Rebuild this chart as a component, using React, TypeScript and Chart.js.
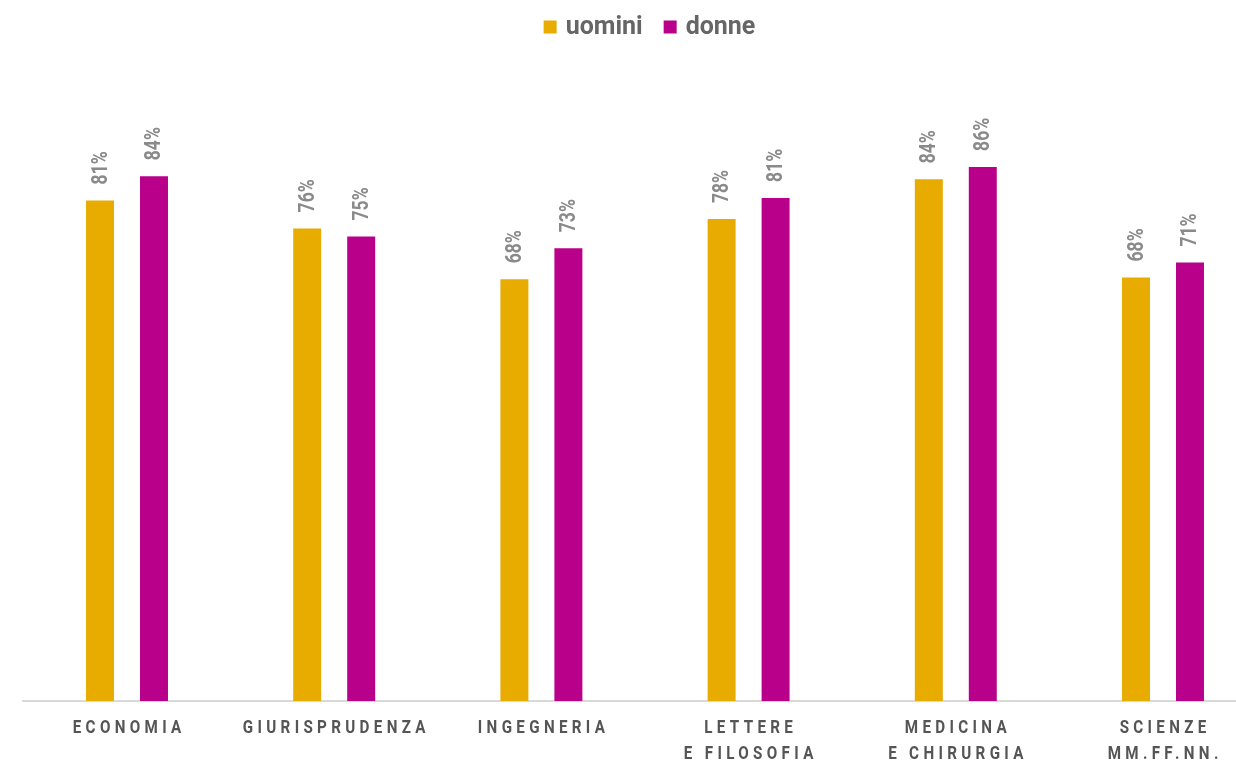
import React, { useEffect, useRef } from "react";
import { Chart, registerables } from "chart.js";

Chart.register(...registerables);

const categories: string[][] = [
  ["ECONOMIA"],
  ["GIURISPRUDENZA"],
  ["INGEGNERIA"],
  ["LETTERE", "E FILOSOFIA"],
  ["MEDICINA", "E CHIRURGIA"],
  ["SCIENZE", "MM.FF.NN."],
];
const seriesNames = ["uomini", "donne"];
const uomini = [80.6, 76.1, 67.9, 77.6, 84.0, 68.2];
const donne = [84.5, 74.8, 72.9, 81.0, 86.0, 70.6];
const uominiLabels = ["81%", "76%", "68%", "78%", "84%", "68%"];
const donneLabels = ["84%", "75%", "73%", "81%", "86%", "71%"];

const GOLD = "#E8AB00";
const MAGENTA = "#B8008A";
const CANVAS_W = 1300;
const CANVAS_H = 760;

const FONT = 'Roboto, "DejaVu Sans", sans-serif';

const valueLabelPlugin = {
  id: "valueLabels",
  afterDatasetsDraw(chart: any) {
    const ctx = chart.ctx;
    const labelSets = [uominiLabels, donneLabels];
    ctx.save();
    ctx.font = `bold 22px ${FONT}`;
    ctx.fillStyle = "#8a8a8a";
    ctx.textAlign = "left";
    ctx.textBaseline = "middle";
    chart.data.datasets.forEach((_: any, di: number) => {
      const meta = chart.getDatasetMeta(di);
      meta.data.forEach((el: any, i: number) => {
        ctx.save();
        ctx.translate(el.x, el.y - 16);
        ctx.rotate(-Math.PI / 2);
        ctx.scale(0.8, 1);
        ctx.fillText(labelSets[di][i], 0, 1);
        ctx.restore();
      });
    });
    ctx.restore();
  },
};

const xLabelPlugin = {
  id: "xLabels",
  afterDraw(chart: any) {
    const ctx = chart.ctx;
    const xs = chart.scales.x;
    ctx.save();
    ctx.font = `bold 19px ${FONT}`;
    ctx.fillStyle = "#555555";
    ctx.textAlign = "left";
    ctx.textBaseline = "middle";
    const spacing = 5.4;
    const sx = 0.8;
    (ctx as any).letterSpacing = `${spacing}px`;
    categories.forEach((lines, i) => {
      const x = xs.getPixelForValue(i);
      lines.forEach((line, j) => {
        const w = ctx.measureText(line).width - spacing;
        ctx.save();
        ctx.translate(x - (w * sx) / 2, 728 + j * 26);
        ctx.scale(sx, 1);
        ctx.fillText(line, 0, 0);
        ctx.restore();
      });
    });
    ctx.restore();
  },
};

const legendPlugin = {
  id: "customLegend",
  afterDraw(chart: any) {
    const ctx = chart.ctx;
    const colors = [GOLD, MAGENTA];
    ctx.save();
    ctx.font = `bold 25px ${FONT}`;
    ctx.textBaseline = "middle";
    ctx.textAlign = "left";
    const box = 13;
    const gapBoxText = 9;
    const gapItems = 21;
    const widths = seriesNames.map((n) => box + gapBoxText + ctx.measureText(n).width);
    const total = widths.reduce((a, b) => a + b, 0) + gapItems * (seriesNames.length - 1);
    let x = 649.5 - total / 2;
    const cy = 27;
    seriesNames.forEach((n, i) => {
      ctx.fillStyle = colors[i];
      ctx.fillRect(x, cy - box / 2, box, box);
      ctx.fillStyle = "#666666";
      ctx.fillText(n, x + box + gapBoxText, cy + 1);
      x += widths[i] + gapItems;
    });
    ctx.restore();
  },
};

export default function App() {
  const ref = useRef<HTMLCanvasElement | null>(null);
  useEffect(() => {
    document.body.style.margin = "0";
    const canvas = ref.current!;
    const chart = new Chart(canvas, {
      type: "bar",
      data: {
        labels: categories.map((c) => c.join(" ")),
        datasets: [
          {
            label: seriesNames[0],
            data: uomini,
            backgroundColor: GOLD,
            categoryPercentage: 0.521,
            barPercentage: 0.5185,
          },
          {
            label: seriesNames[1],
            data: donne,
            backgroundColor: MAGENTA,
            categoryPercentage: 0.521,
            barPercentage: 0.5185,
          },
        ],
      },
      options: {
        responsive: false,
        animation: false,
        layout: { padding: { left: 23.4, right: CANVAS_W - 1266.6, top: 80, bottom: 51 } },
        plugins: {
          legend: { display: false },
          tooltip: { enabled: false },
        },
        scales: {
          x: {
            grid: { display: false },
            border: { display: true, color: "#d9d9d9", width: 2 },
            ticks: { display: false },
          },
          y: {
            display: false,
            min: 0,
            max: 100,
          },
        },
      },
      plugins: [valueLabelPlugin, xLabelPlugin, legendPlugin],
    });
    return () => chart.destroy();
  }, []);
  return (
    <div style={{ width: 1236, height: 760, overflow: "hidden", position: "relative", background: "#fff" }}>
      <canvas ref={ref} width={CANVAS_W} height={CANVAS_H} style={{ display: "block" }} />
    </div>
  );
}
